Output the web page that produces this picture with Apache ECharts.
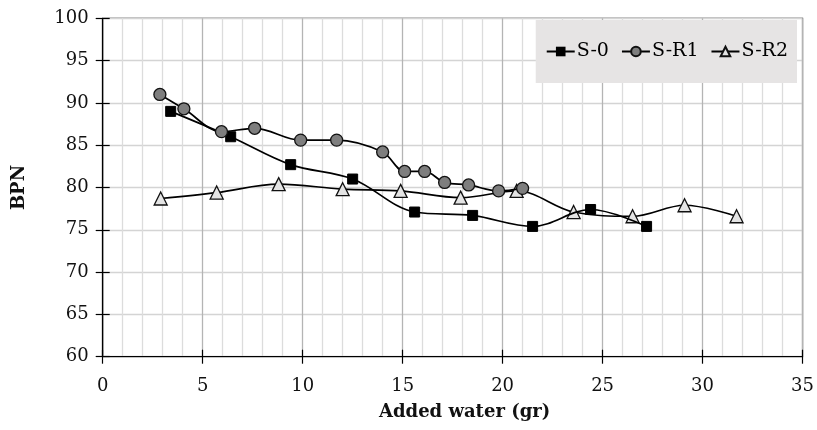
<!DOCTYPE html>
<html>
<head>
<meta charset="utf-8">
<script src="https://cdn.jsdelivr.net/npm/echarts@6/dist/echarts.min.js"></script>
<style>html,body{margin:0;padding:0;background:#fff}#c{width:817px;height:430px}</style>
</head>
<body>
<div id="c"></div>
<script>
var xTicks = [0, 5, 10, 15, 20, 25, 30, 35];
var yTicks = [60, 65, 70, 75, 80, 85, 90, 95, 100];
var s0X = [3.4, 6.4, 9.4, 12.5, 15.6, 18.5, 21.5, 24.4, 27.2];
var s0Y = [89.0, 86.0, 82.7, 81.0, 77.1, 76.7, 75.4, 77.4, 75.4];
var r1X = [2.86, 4.06, 5.94, 7.6, 9.9, 11.7, 14.0, 15.1, 16.1, 17.1, 18.3, 19.8, 21.0];
var r1Y = [91.0, 89.3, 86.6, 87.0, 85.6, 85.6, 84.2, 81.9, 81.9, 80.6, 80.3, 79.6, 79.9];
var r2X = [2.9, 5.7, 8.8, 12.0, 14.9, 17.9, 20.7, 23.55, 26.5, 29.1, 31.7];
var r2Y = [78.7, 79.4, 80.4, 79.8, 79.6, 78.8, 79.6, 77.1, 76.6, 77.9, 76.6];

function pairs(xs, ys) { return xs.map(function (x, i) { return [x, ys[i]]; }); }

var serif = 'DejaVu Serif';
var chart = echarts.init(document.getElementById('c'));
var lineStyle = { color: '#000', width: 1.7 };
chart.setOption({
  animation: false,
  grid: { left: 102.7, right: 13.5, top: 18.3, bottom: 73.3, show: true, borderColor: '#000', borderWidth: 1.2, backgroundColor: 'transparent' },
  legend: {
    right: 20, top: 20,
    backgroundColor: '#e6e4e4',
    padding: [22, 9, 22, 10],
    itemWidth: 28, itemHeight: 12, itemGap: 12,
    textStyle: { fontFamily: serif, fontSize: 19, color: '#000', padding: [0, 0, 0, -3] },
    data: ['S-0', 'S-R1', 'S-R2']
  },
  xAxis: [{
    type: 'value', min: xTicks[0], max: xTicks[xTicks.length - 1], interval: 5,
    name: 'Added water (gr)', nameLocation: 'middle', nameGap: 47,
    nameTextStyle: { fontFamily: serif, fontWeight: 'bold', fontSize: 18, color: '#111', padding: [0, 0, 0, 24] },
    axisLine: { lineStyle: { color: '#000', width: 1.2 } },
    axisTick: { show: true, length: 7, lineStyle: { color: '#000', width: 1.2 } },
    axisLabel: { fontFamily: serif, fontSize: 18, color: '#111', margin: 21 },
    splitLine: { show: true, lineStyle: { color: '#b4b4b4', width: 1.3 } },
    minorTick: { show: false, splitNumber: 5 },
    minorSplitLine: { show: true, lineStyle: { color: '#dcdcdc', width: 1.3 } }
  }, {
    type: 'value', position: 'bottom', min: xTicks[0], max: xTicks[xTicks.length - 1], interval: 5,
    axisLine: { show: false },
    axisTick: { show: true, inside: true, length: 7, lineStyle: { color: '#000', width: 1.2 } },
    axisLabel: { show: false }, splitLine: { show: false }
  }],
  yAxis: [{
    type: 'value', min: yTicks[0], max: yTicks[yTicks.length - 1], interval: 5,
    name: 'BPN', nameLocation: 'middle', nameGap: 74, nameRotate: 90,
    nameTextStyle: { fontFamily: serif, fontWeight: 'bold', fontSize: 18, color: '#111' },
    axisLine: { show: true, lineStyle: { color: '#000', width: 1.2 } },
    axisTick: { show: true, length: 7, lineStyle: { color: '#000', width: 1.2 } },
    axisLabel: { fontFamily: serif, fontSize: 18, color: '#111', margin: 14 },
    splitLine: { show: true, lineStyle: { color: '#d4d4d4', width: 1.3 } }
  }, {
    type: 'value', position: 'left', min: yTicks[0], max: yTicks[yTicks.length - 1], interval: 5,
    axisLine: { show: false },
    axisTick: { show: true, inside: true, length: 7, lineStyle: { color: '#000', width: 1.2 } },
    axisLabel: { show: false }, splitLine: { show: false }
  }],
  series: [{
    name: 'S-0', type: 'line', smooth: 0.35, data: pairs(s0X, s0Y),
    symbol: 'rect', symbolSize: 10, itemStyle: { color: '#000', borderColor: '#000' }, lineStyle: lineStyle, z: 3
  }, {
    name: 'S-R1', type: 'line', smooth: 0.35, data: pairs(r1X, r1Y),
    symbol: 'circle', symbolSize: 12, itemStyle: { color: '#7e7e7e', borderColor: '#111', borderWidth: 1.3 }, lineStyle: lineStyle, z: 4
  }, {
    name: 'S-R2', type: 'line', smooth: 0.35, data: pairs(r2X, r2Y),
    symbol: 'triangle', symbolSize: 13, itemStyle: { color: '#e4e4e4', borderColor: '#111', borderWidth: 1.3 }, lineStyle: lineStyle, z: 2
  }]
});
</script>
</body>
</html>
